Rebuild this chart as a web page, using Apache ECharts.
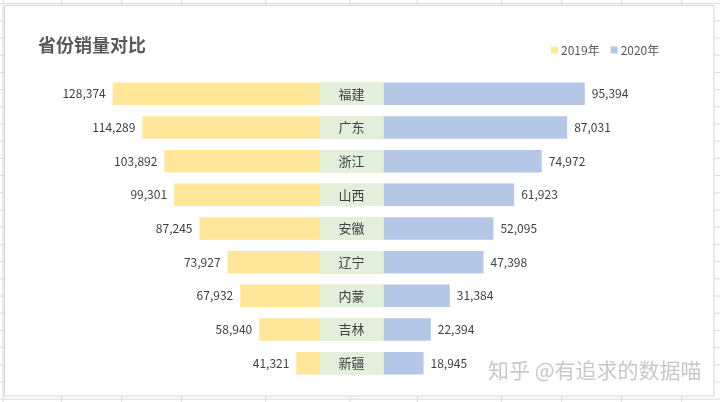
<!DOCTYPE html>
<html>
<head>
<meta charset="utf-8">
<style>
html,body{margin:0;padding:0;background:#fff;}
#chart{width:720px;height:402px;}
</style>
<script src="https://cdn.jsdelivr.net/npm/echarts@6/dist/echarts.min.js"></script>
</head>
<body>
<div id="chart"></div>
<script>
const categories = ['福建','广东','浙江','山西','安徽','辽宁','内蒙','吉林','新疆'];
const sales2019 = [128374,114289,103892,99301,87245,73927,67932,58940,41321];
const sales2020 = [95394,87031,74972,61923,52095,47398,31384,22394,18945];
const seriesNames = ['2019年','2020年'];
const labelBandValue = -30300; // helper band holding the province names

const chart = echarts.init(document.getElementById('chart'), null, {renderer:'canvas'});
const fmt = v => Math.abs(v).toLocaleString('en-US');
const font = '"Noto Sans CJK SC","Microsoft YaHei",sans-serif';

// spreadsheet background decoration
const bgLines = [];
const colX = [3, 61.7, 121.7, 181.7, 265.7, 350, 417.3, 501.7, 561.7, 621.7, 681.7];
colX.forEach(x => {
  bgLines.push({type:'line', shape:{x1:x,y1:0,x2:x,y2:402}, style:{stroke:'#dadada',lineWidth:1}, z:0, silent:true});
});
for (let y = 3.6; y < 402; y += 17.2) {
  bgLines.push({type:'line', shape:{x1:0,y1:y,x2:720,y2:y}, style:{stroke:'#dadada',lineWidth:1}, z:0, silent:true});
}

chart.setOption({
  backgroundColor:'#ffffff',
  animation:false,
  graphic: bgLines.concat([
    {type:'rect', shape:{x:4.5,y:5.5,width:709.5,height:390.5}, style:{fill:'#ffffff',stroke:'#d6d6d6',lineWidth:1}, z:1, silent:true},
    {type:'text', left:488, top:360, z:100, silent:true,
     style:{text:'知乎 @有追求的数据喵', fontSize:21, fontFamily:font, fill:'#c8c8c8'}}
  ]),
  title:{
    text:'省份销量对比', left:33, top:31,
    textStyle:{fontSize:18, fontWeight:'bold', color:'#595959', fontFamily:font}
  },
  legend:{
    data:seriesNames, left:546, top:39, icon:'rect', itemWidth:7, itemHeight:7, itemGap:11,
    textStyle:{fontSize:12, color:'#595959', fontFamily:font, padding:[0,0,0,-2]}
  },
  grid:{left:46, right:20, top:77, height:303, containLabel:false},
  xAxis:{type:'value', min:-160000, max:150000, show:false},
  yAxis:{type:'category', data:categories, inverse:true, show:false},
  series:[
    {
      name:seriesNames[0], type:'bar', data:sales2019.map(v => -v), barWidth:22.5, barGap:'-100%',
      itemStyle:{color:'#FFE699'}, z:2,
      label:{show:true, position:'left', distance:7, formatter:p => fmt(p.value),
             fontSize:12, color:'#404040', fontFamily:font}
    },
    {
      name:'band', type:'bar', data:categories.map(() => labelBandValue), barWidth:22.5, barGap:'-100%',
      itemStyle:{color:'#E2EFDA'}, z:3,
      label:{show:true, position:'inside', formatter:p => p.name,
             fontSize:13, color:'#404040', fontFamily:font}
    },
    {
      name:seriesNames[1], type:'bar', data:sales2020, barWidth:22.5, barGap:'-100%',
      itemStyle:{color:'#B4C7E7'}, z:2,
      label:{show:true, position:'right', distance:7, formatter:p => fmt(p.value),
             fontSize:12, color:'#404040', fontFamily:font}
    }
  ]
});
</script>
</body>
</html>
